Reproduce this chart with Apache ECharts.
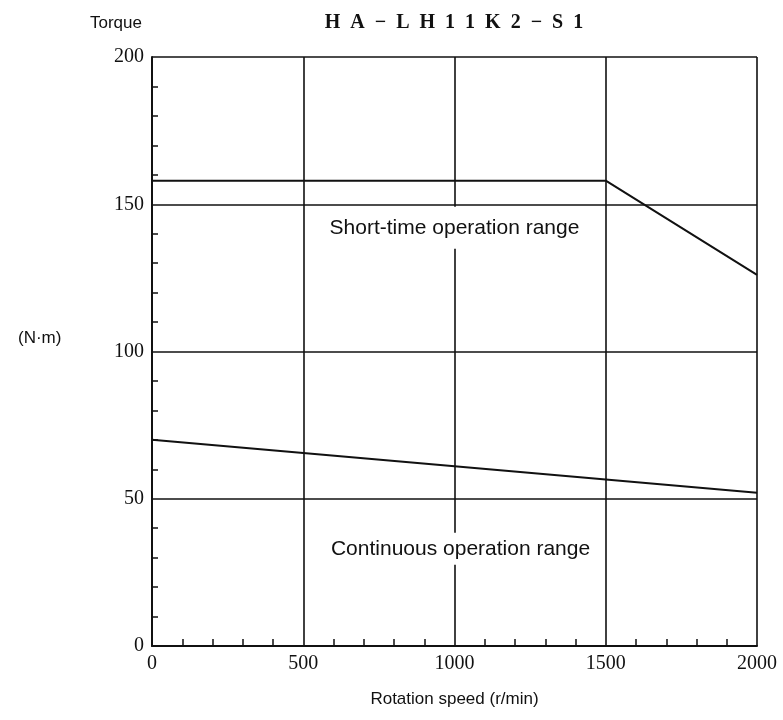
<!DOCTYPE html>
<html>
<head>
<meta charset="utf-8">
<script src="https://cdn.jsdelivr.net/npm/echarts@6/dist/echarts.min.js"></script>
<style>html,body{margin:0;padding:0;background:#fff;}#c{width:783px;height:720px;}</style>
</head>
<body>
<div id="c"></div>
<script>
// Data
var titleText = 'H\u2002A\u2002\u2212\u2002L\u2002H\u20021\u20021\u2002K\u20022\u2002\u2212\u2002S\u20021';
var xTicks = [0, 500, 1000, 1500, 2000];
var yTicks = [0, 50, 100, 150, 200];
var shortTimeSpeed = [0, 1500, 2000];
var shortTimeTorque = [158, 158, 126];
var continuousSpeed = [0, 2000];
var continuousTorque = [70, 52];
var regionLabels = ['Short-time operation range', 'Continuous operation range'];
var regionLabelPos = [[1000, 142], [1020, 33]];

var chart = echarts.init(document.getElementById('c'));
function pairs(xs, ys) { return xs.map(function (x, i) { return [x, ys[i]]; }); }

var serif = 'Liberation Serif';
var sans = 'Liberation Sans';

chart.setOption({
  animation: false,
  backgroundColor: '#fff',
  grid: { left: 152, right: 26, top: 57, bottom: 74 },
  title: {
    text: titleText,
    left: 449, top: 8, textAlign: 'center',
    textStyle: { fontFamily: serif, fontWeight: 'bold', fontSize: 20, color: '#111' }
  },
  graphic: [
    { type: 'text', left: 90, top: 15, style: { text: 'Torque', font: '17px ' + sans, fill: '#111' } },
    { type: 'text', left: 18, top: 330, style: { text: '(N\u00b7m)', font: '17px ' + sans, fill: '#111' } }
  ],
  xAxis: {
    type: 'value', min: xTicks[0], max: xTicks[xTicks.length - 1], interval: 500,
    name: 'Rotation speed (r/min)', nameLocation: 'middle', nameGap: 45,
    nameTextStyle: { fontFamily: sans, fontSize: 17, color: '#111' },
    axisLine: { show: true, lineStyle: { color: '#111', width: 2 } },
    axisTick: { show: false, inside: true },
    minorTick: { show: true, splitNumber: 5, length: 7, lineStyle: { color: '#111', width: 1.5 } },
    splitLine: { show: true, lineStyle: { color: '#111', width: 1.6 } },
    minorSplitLine: { show: false },
    axisLabel: { fontFamily: serif, fontSize: 20, color: '#111', margin: 8, formatter: function (v) { return String(v); } }
  },
  yAxis: {
    type: 'value', min: yTicks[0], max: yTicks[yTicks.length - 1], interval: 50,
    axisLine: { show: true, lineStyle: { color: '#111', width: 2 } },
    axisTick: { show: false, inside: true },
    minorTick: { show: true, splitNumber: 5, length: 6, lineStyle: { color: '#111', width: 1.5 } },
    splitLine: { show: true, lineStyle: { color: '#111', width: 1.6 } },
    axisLabel: { fontFamily: serif, fontSize: 20, color: '#111', margin: 8, formatter: function (v) { return String(v); } }
  },
  series: [
    {
      type: 'line', data: pairs(shortTimeSpeed, shortTimeTorque), symbol: 'none',
      lineStyle: { color: '#111', width: 2 }, z: 3
    },
    {
      type: 'line', data: pairs(continuousSpeed, continuousTorque), symbol: 'none',
      lineStyle: { color: '#111', width: 2 }, z: 3
    },
    {
      type: 'scatter', symbolSize: 0, z: 4,
      itemStyle: { opacity: 1 },
      emphasis: { disabled: true },
      data: [
        { name: regionLabels[0], value: regionLabelPos[0], label: { padding: [11, 6, 10, 6] } },
        { name: regionLabels[1], value: regionLabelPos[1], label: { padding: [3, 6, 8, 6] } }
      ],
      label: {
        show: true, position: 'inside', formatter: '{b}', opacity: 1,
        fontFamily: sans, fontSize: 21, color: '#111',
        backgroundColor: '#fff'
      }
    }
  ]
});
</script>
</body>
</html>
